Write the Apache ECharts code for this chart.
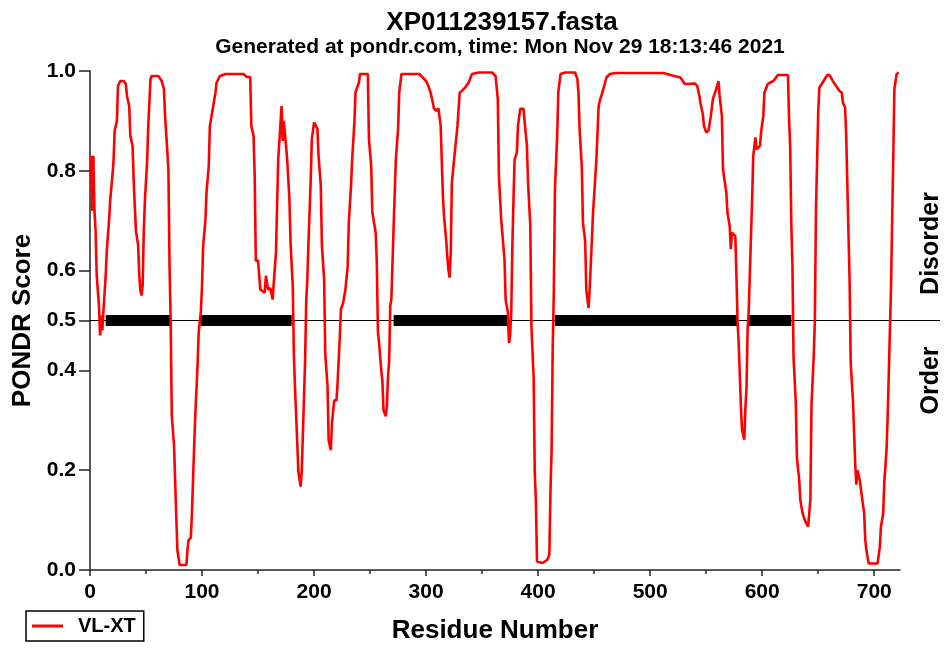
<!DOCTYPE html>
<html lang="en">
<head>
    <meta charset="UTF-8">
    <title>XP011239157 PONDR</title>
    <script src="https://cdn.jsdelivr.net/npm/echarts@6/dist/echarts.min.js"></script>
    <style>
        html, body { margin: 0; padding: 0; background: #fff; }
    </style>
</head>
<body>
<div id="main" style="width: 947px;height: 649px"></div>
<script type="text/javascript">
    // VL-XT score per residue [residue, score]
    var vlxt = [
        [1,0.83],[2,0.72],[3,0.83],[4,0.72],[5,0.68],[6,0.59],[8,0.53],[9,0.47],[10,0.51],[11,0.48],
        [12,0.52],[14,0.59],[15,0.64],[17,0.70],[18,0.74],[20,0.79],[21,0.82],[22,0.88],[24,0.90],[25,0.97],
        [27,0.98],[30,0.98],[32,0.974],[33,0.95],[35,0.93],[36,0.87],[38,0.85],[39,0.78],[40,0.73],[41,0.68],
        [43,0.65],[44,0.59],[45,0.56],[46,0.55],[47,0.57],[48,0.68],[49,0.74],[51,0.82],[52,0.89],[54,0.984],
        [55,0.99],[61,0.99],[64,0.98],[66,0.964],[67,0.91],[69,0.84],[70,0.80],[71,0.61],[72,0.50],[73,0.31],
        [75,0.25],[77,0.107],[78,0.04],[80,0.01],[86,0.01],[87,0.04],[88,0.06],[90,0.065],[91,0.114],[93,0.25],
        [94,0.31],[96,0.41],[97,0.475],[99,0.52],[100,0.57],[101,0.65],[103,0.70],[104,0.757],[106,0.81],[107,0.89],
        [110,0.93],[112,0.957],[113,0.977],[116,0.99],[121,0.994],[137,0.994],[140,0.988],[143,0.988],[144,0.89],[146,0.87],
        [147,0.79],[148,0.62],[150,0.62],[152,0.562],[156,0.556],[157,0.59],[159,0.562],[161,0.565],[163,0.542],[164,0.575],
        [166,0.636],[168,0.823],[169,0.857],[171,0.93],[172,0.86],[173,0.90],[175,0.85],[176,0.823],[178,0.743],[179,0.656],
        [181,0.569],[182,0.43],[183,0.365],[185,0.255],[186,0.197],[188,0.167],[189,0.197],[191,0.345],[192,0.42],[193,0.54],
        [194,0.582],[195,0.656],[197,0.78],[198,0.863],[200,0.897],[201,0.895],[203,0.884],[204,0.83],[206,0.77],[207,0.65],
        [209,0.582],[210,0.432],[212,0.37],[213,0.26],[215,0.24],[216,0.295],[218,0.34],[220,0.34],[221,0.375],[223,0.468],
        [224,0.522],[226,0.536],[228,0.562],[230,0.609],[231,0.696],[233,0.77],[234,0.823],[236,0.897],[237,0.957],[240,0.977],
        [241,0.994],[248,0.994],[249,0.863],[251,0.81],[252,0.717],[255,0.676],[256,0.616],[257,0.478],[258,0.455],[260,0.40],
        [261,0.378],[262,0.32],[264,0.308],[265,0.33],[266,0.388],[267,0.418],[268,0.529],[269,0.542],[270,0.616],[272,0.757],
        [273,0.823],[275,0.884],[276,0.957],[278,0.994],[294,0.994],[297,0.987],[300,0.98],[302,0.97],[304,0.957],[306,0.937],
        [307,0.925],[309,0.92],[311,0.925],[313,0.89],[315,0.75],[316,0.709],[318,0.659],[319,0.626],[320,0.60],[321,0.586],
        [322,0.636],[323,0.776],[325,0.823],[328,0.89],[330,0.957],[332,0.96],[335,0.967],[338,0.977],[341,0.994],[347,0.997],
        [359,0.997],[362,0.99],[364,0.944],[365,0.79],[367,0.703],[368,0.676],[370,0.622],[371,0.542],[373,0.516],[374,0.455],
        [375,0.47],[376,0.516],[377,0.65],[378,0.743],[379,0.823],[381,0.836],[382,0.89],[384,0.924],[387,0.924],[388,0.897],
        [390,0.85],[391,0.776],[393,0.69],[394,0.489],[396,0.385],[397,0.197],[398,0.137],[399,0.017],[404,0.014],[408,0.02],
        [410,0.03],[411,0.157],[412,0.238],[413,0.445],[414,0.556],[415,0.763],[417,0.87],[418,0.957],[420,0.994],[424,0.997],
        [433,0.997],[435,0.984],[436,0.957],[437,0.884],[439,0.807],[440,0.696],[442,0.659],[443,0.562],[445,0.525],[446,0.562],
        [448,0.663],[449,0.716],[451,0.786],[452,0.823],[454,0.93],[455,0.94],[457,0.954],[459,0.97],[461,0.987],[464,0.994],
        [469,0.996],[512,0.996],[518,0.992],[527,0.987],[531,0.974],[540,0.975],[542,0.97],[544,0.95],[545,0.934],[547,0.914],
        [548,0.89],[550,0.877],[552,0.88],[554,0.907],[556,0.944],[559,0.964],[561,0.98],[562,0.95],[564,0.91],[565,0.803],
        [568,0.756],[569,0.716],[571,0.689],[572,0.643],[573,0.676],[576,0.669],[577,0.589],[578,0.50],[579,0.455],[581,0.328],
        [582,0.281],[584,0.261],[585,0.325],[586,0.365],[587,0.485],[588,0.522],[589,0.596],[591,0.743],[592,0.83],[594,0.867],
        [595,0.843],[598,0.85],[599,0.877],[601,0.91],[602,0.957],[605,0.974],[610,0.98],[614,0.992],[623,0.992],[624,0.904],
        [625,0.847],[626,0.693],[627,0.61],[628,0.425],[630,0.335],[631,0.224],[633,0.181],[634,0.141],[636,0.114],[638,0.10],
        [641,0.087],[643,0.141],[644,0.331],[646,0.428],[647,0.5],[648,0.722],[650,0.917],[651,0.967],[654,0.977],[658,0.992],
        [660,0.992],[663,0.98],[666,0.97],[669,0.96],[671,0.957],[672,0.937],[674,0.927],[675,0.87],[677,0.676],[678,0.582],
        [679,0.415],[681,0.341],[683,0.214],[684,0.171],[685,0.20],[687,0.181],[689,0.147],[691,0.114],[692,0.06],[693,0.04],
        [695,0.013],[703,0.013],[705,0.047],[706,0.087],[708,0.114],[709,0.177],[711,0.241],[712,0.308],[714,0.482],[715,0.569],
        [717,0.83],[718,0.964],[720,0.994],[722,0.997]
    ];
    // long disordered regions (black bars at 0.5)
    var regionStart = [14, 99, 271, 415, 588];
    var regionEnd = [72, 180, 374, 578, 626];
    var seqLength = 723;
    var threshold = 0.5;
    var xTicks = [0, 100, 200, 300, 400, 500, 600, 700];
    var xMinorTicks = [50, 150, 250, 350, 450, 550, 650];
    var yTicks = [0, 0.2, 0.4, 0.5, 0.6, 0.8, 1.0];

    var font = 'Liberation Sans, Arial, Helvetica, sans-serif';
    var axisColor = '#222';

    var myEcharts = echarts.init(document.getElementById('main'));

    var series = [];
    for (var i = 0; i < regionStart.length; i++) {
        series.push({
            name: 'region' + i,
            type: 'line',
            symbol: 'none',
            silent: true,
            z: 1,
            lineStyle: {color: '#000', width: 11, cap: 'butt'},
            data: [[regionStart[i], threshold], [regionEnd[i], threshold]]
        });
    }
    series.push({
        name: 'VL-XT',
        type: 'line',
        symbol: 'none',
        z: 3,
        lineStyle: {color: '#ff0000', width: 2.6},
        itemStyle: {color: '#ff0000'},
        data: vlxt
    });

    var option = {
        animation: false,
        backgroundColor: '#fff',
        textStyle: {fontFamily: font},
        title: [
            {
                text: 'XP011239157.fasta',
                left: 497, top: 5, textAlign: 'center',
                textStyle: {fontFamily: font, fontSize: 26, fontWeight: 'bold', color: '#000'}
            },
            {
                text: 'Generated at pondr.com, time: Mon Nov 29 18:13:46 2021',
                left: 495, top: 32, textAlign: 'center',
                textStyle: {fontFamily: font, fontSize: 21, fontWeight: 'bold', color: '#000'}
            }
        ],
        legend: {
            data: [{name: 'VL-XT', icon: 'rect'}],
            left: 26, top: 611,
            orient: 'horizontal',
            borderColor: '#000', borderWidth: 1.5, borderRadius: 0,
            padding: [5, 8, 5, 6],
            itemWidth: 31, itemHeight: 3,
            textStyle: {fontFamily: font, fontSize: 20, fontWeight: 'bold', color: '#000', padding: [0, 0, 0, 10]}
        },
        grid: {left: 90, right: 47, top: 71, bottom: 78},
        xAxis: [
            {
                type: 'value', min: 0, max: seqLength,
                name: 'Residue Number', nameLocation: 'middle', nameGap: 48,
                nameTextStyle: {fontFamily: font, fontSize: 26, fontWeight: 'bold', color: '#000'},
                axisLine: {lineStyle: {color: axisColor, width: 1.5}},
                axisTick: {length: 6, lineStyle: {color: axisColor, width: 1.5}, customValues: xTicks},
                axisLabel: {customValues: xTicks, margin: 12, fontFamily: font, fontSize: 21, fontWeight: 'bold', color: '#000'},
                splitLine: {show: false}
            },
            {
                type: 'value', min: 0, max: seqLength, position: 'bottom',
                axisLine: {show: false},
                axisTick: {length: 4, lineStyle: {color: axisColor, width: 1.5}, customValues: xMinorTicks},
                axisLabel: {show: false},
                splitLine: {show: false}
            }
        ],
        yAxis: {
            type: 'value', min: 0, max: 1,
            name: 'PONDR Score', nameLocation: 'middle', nameGap: 54,
            nameTextStyle: {fontFamily: font, fontSize: 26, fontWeight: 'bold', color: '#000'},
            axisLine: {show: true, lineStyle: {color: axisColor, width: 1.5}},
            axisTick: {show: true, length: 11, lineStyle: {color: axisColor, width: 1.5}, customValues: yTicks},
            axisLabel: {
                customValues: yTicks, margin: 14,
                fontFamily: font, fontSize: 21, fontWeight: 'bold', color: '#000',
                formatter: function (v) { return v.toFixed(1); }
            },
            splitLine: {show: false}
        },
        series: series
    };
    myEcharts.setOption(option);

    // threshold line runs past the plot to the Disorder / Order labels
    var p0 = myEcharts.convertToPixel({xAxisIndex: 0, yAxisIndex: 0}, [0, threshold]);
    myEcharts.setOption({
        graphic: [
            {
                type: 'line', z: 2, silent: true,
                shape: {x1: p0[0], y1: p0[1], x2: 940, y2: p0[1]},
                style: {stroke: '#000', lineWidth: 1.2}
            },
            {
                type: 'text', x: 931, y: p0[1] - 77, rotation: Math.PI / 2,
                style: {text: 'Disorder', font: 'bold 25px ' + font, fill: '#000', align: 'center', verticalAlign: 'middle'}
            },
            {
                type: 'text', x: 931, y: p0[1] + 60, rotation: Math.PI / 2,
                style: {text: 'Order', font: 'bold 25px ' + font, fill: '#000', align: 'center', verticalAlign: 'middle'}
            }
        ]
    });
</script>
</body>
</html>
